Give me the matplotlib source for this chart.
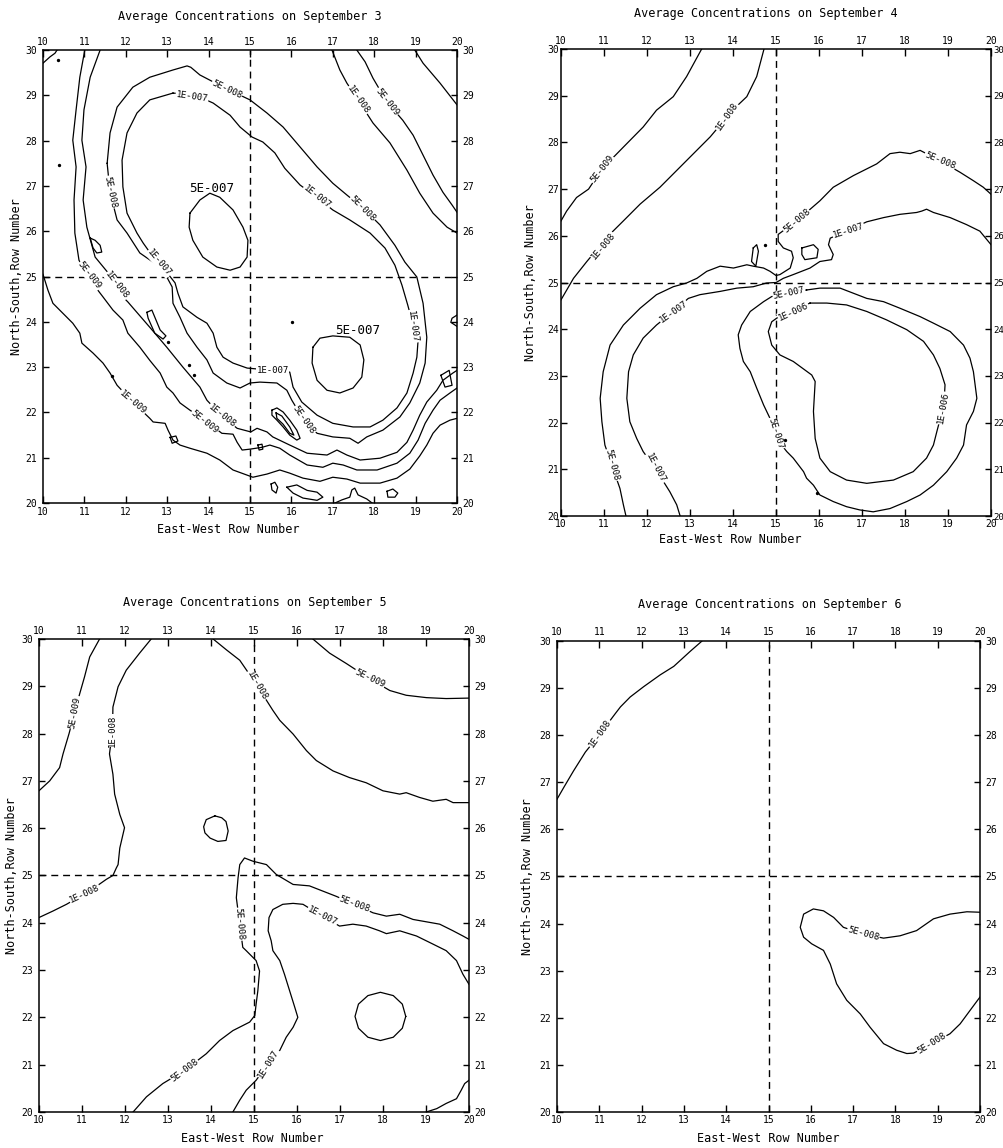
import numpy as np
import matplotlib.pyplot as plt

# ---- September 3 (traced contour paths, grid units) ----
sep3_5e9_west = [(11.01, 30.0), (10.89, 29.40), (10.80, 28.68), (10.72, 28.01), (10.80, 27.42), (10.75, 26.69),
                 (10.77, 25.96), (10.87, 25.36), (11.14, 24.92), (11.45, 24.55), (11.69, 24.26), (11.93, 24.04),
                 (12.05, 23.75), (12.34, 23.44), (12.58, 23.15), (12.83, 22.87), (12.99, 22.56), (13.14, 22.43),
                 (13.31, 22.21), (13.55, 22.05), (13.91, 21.83), (14.32, 21.54), (14.59, 21.52), (14.69, 21.34),
                 (14.81, 21.17), (15.00, 21.19), (15.29, 21.23), (15.48, 21.28), (15.72, 21.21), (15.96, 21.06),
                 (16.38, 20.84), (16.76, 20.79), (17.00, 20.88), (17.25, 20.84), (17.58, 20.73), (18.07, 20.73),
                 (18.55, 20.88), (18.86, 21.10), (19.06, 21.39), (19.23, 21.76), (19.42, 22.05), (19.59, 22.27),
                 (19.83, 22.43), (20.0, 22.54)]
sep3_1e8_west = [(11.38, 30.0), (11.14, 29.40), (10.99, 28.68), (10.94, 28.01), (11.04, 27.42), (10.97, 26.69),
                 (11.06, 26.09), (11.26, 25.43), (11.62, 25.03), (11.93, 24.55), (12.05, 24.44), (12.58, 23.88),
                 (12.99, 23.44), (13.38, 23.00), (13.79, 22.56), (13.96, 22.27), (14.32, 21.92), (14.69, 21.65),
                 (15.02, 21.57), (15.17, 21.65), (15.41, 21.57), (15.55, 21.46), (15.96, 21.28), (16.38, 21.10),
                 (16.86, 21.06), (17.10, 21.17), (17.34, 21.06), (17.66, 20.95), (18.14, 20.99), (18.55, 21.12),
                 (18.79, 21.34), (18.94, 21.61), (19.10, 21.94), (19.27, 22.23), (19.51, 22.49), (19.66, 22.71),
                 (19.90, 22.87), (20.0, 22.93)]
sep3_1e9_west = [(10.0, 25.05), (10.12, 24.70), (10.24, 24.41), (10.48, 24.19), (10.72, 23.97), (10.89, 23.75),
                 (10.94, 23.53), (11.21, 23.31), (11.45, 23.09), (11.62, 22.87), (11.79, 22.60), (12.17, 22.23),
                 (12.58, 21.87), (12.66, 21.79), (12.95, 21.76), (13.02, 21.61), (13.14, 21.39), (13.31, 21.28),
                 (13.55, 21.21), (13.96, 21.10), (14.27, 20.95), (14.59, 20.73), (15.07, 20.57), (15.41, 20.64),
                 (15.72, 20.73), (15.96, 20.66), (16.28, 20.55), (16.69, 20.48), (17.00, 20.57), (17.34, 20.53),
                 (17.66, 20.44), (18.14, 20.44), (18.55, 20.55), (18.86, 20.75), (19.10, 21.04), (19.27, 21.28),
                 (19.42, 21.54), (19.59, 21.72), (19.83, 21.83), (20.0, 21.87)]
sep3_1e8_east = [(16.98, 30.0), (17.17, 29.56), (17.34, 29.27), (17.61, 28.90), (17.97, 28.39), (18.38, 27.95),
                 (18.79, 27.35), (19.10, 26.84), (19.42, 26.40), (19.76, 26.09), (20.0, 25.96)]
sep3_5e9_east = [(17.58, 30.0), (17.78, 29.74), (17.97, 29.38), (18.31, 28.85), (18.69, 28.45), (18.94, 28.12),
                 (19.18, 27.68), (19.42, 27.24), (19.66, 26.86), (19.88, 26.58), (20.0, 26.42)]
sep3_1e9_east = [(18.98, 30.0), (19.18, 29.71), (19.59, 29.27), (20.0, 28.79)]
sep3_corner = [(10.0, 29.71), (10.17, 29.85), (10.29, 29.93), (10.34, 30.0)]
sep3_1e7 = [(13.14, 29.05), (12.58, 28.90), (12.27, 28.61), (12.03, 28.17), (11.91, 27.57), (11.93, 26.98),
            (12.03, 26.40), (12.27, 25.96), (12.42, 25.74), (12.63, 25.47), (12.95, 25.14), (13.19, 24.86),
            (13.26, 24.63), (13.38, 24.33), (13.72, 24.10), (13.96, 23.97), (14.11, 23.75), (14.20, 23.44),
            (14.35, 23.22), (14.59, 23.09), (14.93, 22.98), (15.17, 22.96), (15.60, 22.93), (15.96, 22.89),
            (16.04, 22.56), (16.25, 22.23), (16.62, 21.94), (17.00, 21.76), (17.49, 21.68), (17.90, 21.68),
            (18.21, 21.83), (18.55, 22.10), (18.79, 22.43), (18.94, 22.87), (19.03, 23.22), (19.06, 23.60),
            (18.94, 23.93), (18.81, 24.37), (18.67, 24.81), (18.50, 25.25), (18.26, 25.63), (17.90, 25.96),
            (17.41, 26.25), (17.00, 26.47), (16.57, 26.78), (16.21, 27.02), (15.84, 27.39), (15.60, 27.73),
            (15.31, 27.97), (15.05, 28.08), (14.76, 28.30), (14.52, 28.56), (14.11, 28.83), (13.67, 29.01)]
sep3_5e8 = [(11.55, 27.50), (11.62, 28.17), (11.79, 28.74), (12.17, 29.18), (12.58, 29.40), (13.14, 29.56),
            (13.48, 29.65), (13.57, 29.62), (13.79, 29.45), (14.40, 29.16), (15.00, 28.90), (15.41, 28.61),
            (15.80, 28.30), (16.21, 27.86), (16.62, 27.42), (17.00, 27.06), (17.34, 26.80), (17.73, 26.51),
            (18.14, 26.14), (18.50, 25.69), (18.74, 25.32), (19.03, 24.99), (19.18, 24.41), (19.27, 23.66),
            (19.23, 23.09), (19.10, 22.65), (18.86, 22.21), (18.62, 21.90), (18.21, 21.61), (17.82, 21.46),
            (17.61, 21.32), (17.41, 21.43), (17.00, 21.46), (16.62, 21.54), (16.30, 21.83), (16.01, 22.27),
            (15.89, 22.49), (15.65, 22.65), (15.24, 22.67), (15.00, 22.65), (14.76, 22.54), (14.44, 22.65),
            (14.11, 22.87), (13.96, 23.16), (13.72, 23.44), (13.48, 23.75), (13.31, 24.10), (13.14, 24.41),
            (13.12, 24.77), (12.99, 24.99), (12.83, 25.21), (12.34, 25.52), (12.03, 25.96), (11.79, 26.25),
            (11.62, 26.86)]
sep3_5e7_north = [(13.55, 26.40), (13.79, 26.69), (14.03, 26.84), (14.27, 26.75), (14.59, 26.47), (14.83, 26.09),
                  (14.95, 25.80), (14.93, 25.43), (14.76, 25.21), (14.52, 25.14), (14.20, 25.21), (13.86, 25.43),
                  (13.62, 25.80), (13.53, 26.09)]
sep3_5e7_south = [(16.52, 23.44), (16.69, 23.64), (17.00, 23.69), (17.41, 23.66), (17.66, 23.49), (17.75, 23.16),
                  (17.70, 22.78), (17.49, 22.54), (17.17, 22.43), (16.86, 22.49), (16.62, 22.71), (16.50, 23.09)]
sep3_islands = [
    [(11.14, 25.85), (11.26, 25.80), (11.38, 25.69), (11.42, 25.54), (11.30, 25.52), (11.21, 25.63)],
    [(12.51, 24.21), (12.63, 24.26), (12.83, 23.82), (12.97, 23.69), (12.90, 23.62), (12.70, 23.75), (12.54, 24.08)],
    [(15.53, 22.05), (15.65, 22.10), (15.80, 22.01), (15.96, 21.83), (16.13, 21.61), (16.21, 21.43), (16.13, 21.39),
     (15.96, 21.50), (15.80, 21.68), (15.65, 21.83), (15.53, 21.94)],
    [(15.63, 21.99), (15.77, 21.92), (15.96, 21.68), (16.06, 21.50), (15.96, 21.54), (15.80, 21.74), (15.65, 21.87)],
    [(15.89, 20.35), (16.13, 20.40), (16.38, 20.28), (16.62, 20.24), (16.76, 20.13), (16.62, 20.06), (16.28, 20.11),
     (16.04, 20.22)],
    [(18.31, 20.26), (18.45, 20.31), (18.57, 20.22), (18.50, 20.13), (18.33, 20.13)],
    [(15.51, 20.42), (15.60, 20.46), (15.67, 20.35), (15.63, 20.22), (15.53, 20.29)],
    [(15.19, 21.28), (15.29, 21.30), (15.31, 21.19), (15.22, 21.17)],
    [(13.07, 21.45), (13.21, 21.48), (13.26, 21.37), (13.12, 21.32)],
    [(19.61, 22.82), (19.81, 22.93), (19.88, 22.60), (19.71, 22.56)],
]
sep3_open_bits = [
    [(17.05, 20.0), (17.22, 20.07), (17.41, 20.13), (17.46, 20.29), (17.53, 20.33), (17.61, 20.18), (17.82, 20.09),
     (17.95, 20.0)],
    [(20.0, 24.15), (19.88, 24.08), (19.85, 23.99), (20.0, 23.90)],
]
sep3_dots = [(10.36, 29.78), (10.39, 27.46), (16.01, 23.99), (13.02, 23.55), (13.53, 23.04), (13.65, 22.82),
             (11.67, 22.80)]
sep3_labels = [("5E-009", 11.12, 25.02, -52), ("1E-008", 11.78, 24.80, -52), ("5E-008", 11.62, 26.86, -78),
               ("1E-007", 12.80, 25.30, -50), ("5E-008", 14.44, 29.13, -25), ("1E-007", 13.60, 28.97, -8),
               ("1E-007", 16.62, 26.76, -38), ("5E-008", 17.73, 26.51, -45), ("1E-008", 17.61, 28.90, -55),
               ("5E-009", 18.31, 28.85, -52), ("1E-007", 18.92, 23.90, -82), ("1E-007", 15.55, 22.93, 0),
               ("5E-008", 16.30, 21.83, -55), ("1E-008", 14.32, 21.92, -38), ("5E-009", 13.91, 21.80, -38),
               ("1E-009", 12.17, 22.23, -40)]
sep3_big_labels = [("5E-007", 14.08, 26.95), ("5E-007", 17.61, 23.82)]

# ---- September 4 ----
sep4_5e9 = [(13.27, 30.0), (12.92, 29.41), (12.61, 28.98), (12.22, 28.69), (11.91, 28.33), (11.45, 27.90),
            (10.95, 27.43), (10.64, 27.00), (10.36, 26.82), (10.13, 26.53), (10.0, 26.32)]
sep4_1e8 = [(14.72, 30.0), (14.55, 29.41), (14.32, 28.98), (14.00, 28.70), (13.47, 28.12), (13.08, 27.76),
            (12.69, 27.40), (12.30, 27.04), (11.84, 26.68), (11.45, 26.32), (11.10, 26.00), (10.60, 25.45),
            (10.29, 25.09), (10.0, 24.63)]
sep4_5e8 = [(20.0, 26.89), (19.82, 27.04), (19.59, 27.18), (19.28, 27.36), (18.81, 27.61), (18.35, 27.83),
            (18.12, 27.76), (17.88, 27.79), (17.65, 27.76), (17.34, 27.54), (16.80, 27.29), (16.33, 27.04),
            (16.02, 26.75), (15.48, 26.32), (15.05, 26.03), (15.05, 25.88), (15.17, 25.74), (15.36, 25.67),
            (15.40, 25.53), (15.33, 25.31), (15.09, 25.17), (15.0, 25.15), (14.86, 25.24), (14.71, 25.31),
            (14.47, 25.35), (14.32, 25.38), (14.01, 25.31), (13.70, 25.35), (13.39, 25.24), (13.16, 25.09),
            (12.92, 24.99), (12.61, 24.91), (12.22, 24.74), (11.84, 24.45), (11.45, 24.09), (11.14, 23.66),
            (10.98, 23.09), (10.91, 22.52), (10.95, 22.02), (11.02, 21.52), (11.18, 21.09), (11.37, 20.59),
            (11.45, 20.24), (11.51, 20.0)]
sep4_1e7 = [(20.0, 25.81), (19.74, 26.10), (19.43, 26.24), (19.05, 26.39), (18.66, 26.50), (18.50, 26.57),
            (18.39, 26.53), (18.27, 26.50), (17.88, 26.46), (17.50, 26.39), (17.11, 26.30), (16.68, 26.12),
            (16.26, 25.95), (16.22, 25.81), (16.33, 25.60), (16.29, 25.49), (16.02, 25.45), (15.79, 25.31),
            (15.40, 25.17), (15.17, 25.09), (15.0, 25.0), (14.78, 24.99), (14.47, 24.91), (14.09, 24.88),
            (13.70, 24.81), (13.23, 24.74), (12.96, 24.66), (12.61, 24.38), (12.22, 24.09), (11.91, 23.81),
            (11.68, 23.45), (11.57, 23.09), (11.53, 22.52), (11.60, 22.02), (11.76, 21.66), (11.91, 21.38),
            (12.19, 21.02), (12.53, 20.52), (12.69, 20.24), (12.77, 20.0)]
sep4_5e7 = [(15.71, 24.84), (16.02, 24.88), (16.49, 24.88), (16.80, 24.77), (17.11, 24.66), (17.50, 24.59),
            (17.88, 24.45), (18.35, 24.27), (18.66, 24.13), (19.05, 23.95), (19.36, 23.66), (19.51, 23.38),
            (19.59, 23.09), (19.67, 22.52), (19.59, 22.24), (19.43, 21.95), (19.36, 21.52), (19.20, 21.24),
            (18.97, 20.95), (18.66, 20.66), (18.35, 20.45), (18.04, 20.31), (17.65, 20.16), (17.26, 20.09),
            (16.95, 20.13), (16.64, 20.20), (16.33, 20.31), (16.02, 20.45), (15.87, 20.66), (15.71, 20.81),
            (15.64, 20.95), (15.40, 21.24), (15.25, 21.38), (15.13, 21.52), (15.02, 21.81), (14.86, 22.09),
            (14.71, 22.38), (14.55, 22.74), (14.40, 23.09), (14.24, 23.31), (14.16, 23.59), (14.12, 23.88),
            (14.20, 24.09), (14.40, 24.38), (14.71, 24.59), (14.90, 24.70), (15.31, 24.77)]
sep4_1e6 = [(15.79, 24.56), (16.18, 24.56), (16.64, 24.52), (17.11, 24.38), (17.57, 24.20), (18.04, 23.99),
            (18.43, 23.74), (18.66, 23.45), (18.81, 23.16), (18.93, 22.81), (18.90, 22.31), (18.78, 21.95),
            (18.74, 21.81), (18.66, 21.52), (18.50, 21.24), (18.19, 20.95), (17.73, 20.77), (17.11, 20.70),
            (16.64, 20.77), (16.26, 20.95), (16.02, 21.24), (15.91, 21.66), (15.87, 22.24), (15.91, 22.88),
            (15.83, 23.02), (15.40, 23.31), (15.09, 23.45), (14.90, 23.66), (14.82, 23.95), (14.90, 24.16),
            (15.02, 24.24), (15.40, 24.40)]
sep4_islands = [
    [(15.60, 25.74), (15.87, 25.81), (15.98, 25.71), (15.95, 25.53), (15.67, 25.49), (15.60, 25.60)],
    [(14.47, 25.74), (14.55, 25.81), (14.59, 25.67), (14.53, 25.35), (14.43, 25.45)],
]
sep4_dots = [(14.74, 25.81), (15.21, 21.63), (15.95, 20.49)]
sep4_labels = [("5E-009", 10.95, 27.43, 52), ("1E-008", 13.85, 28.55, 55), ("1E-008", 10.98, 25.78, 50),
               ("5E-008", 15.48, 26.32, 40), ("5E-008", 18.81, 27.61, -22), ("1E-007", 16.68, 26.12, 18),
               ("1E-007", 12.61, 24.38, 35), ("5E-008", 11.18, 21.09, -75), ("1E-007", 12.19, 21.02, -62),
               ("5E-007", 15.30, 24.77, 12), ("1E-006", 15.40, 24.38, 25), ("5E-007", 15.0, 21.77, -72),
               ("1E-006", 18.88, 22.31, 80)]

# ---- September 5 ----
sep5_5e9_west = [(11.41, 30.0), (11.18, 29.62), (11.06, 29.20), (10.95, 28.85), (10.83, 28.45), (10.70, 28.00),
                 (10.56, 27.57), (10.48, 27.28), (10.25, 27.00), (10.0, 26.79)]
sep5_1e8_west = [(12.61, 30.0), (12.34, 29.70), (12.03, 29.34), (11.84, 28.99), (11.72, 28.56), (11.71, 28.06),
                 (11.64, 27.57), (11.72, 27.14), (11.76, 26.72), (11.88, 26.29), (11.99, 26.01), (11.88, 25.58),
                 (11.84, 25.23), (11.80, 25.16), (11.72, 25.0), (11.57, 24.92), (11.35, 24.78), (11.06, 24.61),
                 (10.64, 24.39), (10.33, 24.25), (10.0, 24.11)]
sep5_1e8_east = [(14.05, 30.0), (14.36, 29.77), (14.67, 29.55), (15.07, 29.02), (15.44, 28.49), (15.60, 28.28),
                 (15.91, 27.99), (16.22, 27.64), (16.45, 27.43), (16.84, 27.21), (17.22, 27.07), (17.61, 26.96),
                 (18.0, 26.79), (18.39, 26.72), (18.54, 26.75), (18.85, 26.65), (19.16, 26.57), (19.47, 26.61),
                 (19.63, 26.54), (20.0, 26.54)]
sep5_5e9_east = [(16.37, 30.0), (16.76, 29.70), (17.15, 29.48), (17.69, 29.16), (18.16, 28.91), (18.54, 28.81),
                 (19.01, 28.76), (19.47, 28.74), (20.0, 28.75)]
sep5_5e8 = [(20.0, 23.65), (19.86, 23.72), (19.63, 23.83), (19.32, 23.97), (19.01, 24.02), (18.70, 24.07),
            (18.39, 24.18), (18.08, 24.14), (17.77, 24.21), (17.34, 24.39), (16.91, 24.56), (16.60, 24.67),
            (16.29, 24.78), (15.91, 24.81), (15.52, 25.02), (15.29, 25.23), (14.98, 25.30), (14.78, 25.37),
            (14.67, 25.23), (14.63, 24.95), (14.59, 24.53), (14.67, 23.97), (14.74, 23.48), (14.82, 23.41),
            (15.05, 23.20), (15.13, 22.98), (15.09, 22.56), (15.05, 22.28), (15.02, 22.04), (14.90, 21.90),
            (14.51, 21.72), (14.20, 21.51), (13.89, 21.23), (13.39, 20.88), (12.88, 20.60), (12.50, 20.32),
            (12.19, 20.0)]
sep5_1e7 = [(20.0, 22.70), (19.86, 22.91), (19.71, 23.20), (19.47, 23.41), (19.16, 23.55), (18.78, 23.72),
            (18.39, 23.83), (18.08, 23.77), (17.92, 23.83), (17.61, 23.93), (17.30, 23.97), (16.99, 23.93),
            (16.59, 24.14), (16.14, 24.39), (15.91, 24.41), (15.67, 24.39), (15.44, 24.28), (15.35, 24.11),
            (15.33, 23.83), (15.40, 23.62), (15.44, 23.41), (15.60, 23.20), (15.71, 22.91), (15.83, 22.56),
            (15.95, 22.21), (16.02, 22.0), (15.91, 21.79), (15.75, 21.58), (15.60, 21.30), (15.33, 21.02),
            (15.05, 20.67), (14.82, 20.46), (14.67, 20.25), (14.51, 20.0)]
sep5_1e8_edge = [(19.01, 20.0), (19.25, 20.07), (19.47, 20.18), (19.71, 20.28), (19.82, 20.46), (19.90, 20.60),
                 (20.0, 20.67)]
sep5_ring_small = [(14.09, 26.26), (14.25, 26.22), (14.35, 26.14), (14.40, 25.94), (14.35, 25.74), (14.16, 25.72),
                   (13.98, 25.79), (13.86, 25.90), (13.83, 26.03), (13.89, 26.18)]
sep5_ring_big = [(18.53, 22.02), (18.45, 22.28), (18.24, 22.46), (17.94, 22.53), (17.65, 22.46), (17.43, 22.28),
                 (17.35, 22.02), (17.43, 21.77), (17.65, 21.58), (17.94, 21.51), (18.24, 21.58), (18.45, 21.77)]
sep5_labels = [("5E-009", 10.83, 28.45, 80), ("1E-008", 11.71, 28.06, 90), ("1E-008", 15.07, 29.02, -60),
               ("5E-009", 17.69, 29.16, -25), ("1E-008", 11.06, 24.61, 25), ("5E-008", 17.34, 24.39, -20),
               ("5E-008", 14.67, 23.97, -85), ("1E-007", 16.59, 24.14, -27), ("5E-008", 13.39, 20.88, 37),
               ("1E-007", 15.33, 21.02, 58)]

# ---- September 6 ----
sep6_1e8 = [(13.43, 30.0), (13.15, 29.78), (12.76, 29.46), (12.44, 29.28), (12.05, 29.03), (11.73, 28.81),
            (11.50, 28.60), (11.38, 28.46), (11.02, 28.03), (10.67, 27.64), (10.39, 27.24), (10.16, 26.89),
            (10.0, 26.64)]
sep6_5e8 = [(20.0, 24.24), (19.69, 24.25), (19.29, 24.20), (18.90, 24.10), (18.50, 23.85), (18.11, 23.74),
            (17.72, 23.69), (17.24, 23.78), (16.77, 23.92), (16.54, 24.13), (16.30, 24.27), (16.06, 24.31),
            (15.83, 24.20), (15.75, 23.92), (15.83, 23.71), (16.02, 23.57), (16.30, 23.43), (16.46, 23.14),
            (16.61, 22.72), (16.85, 22.37), (17.17, 22.08), (17.40, 21.80), (17.72, 21.45), (18.03, 21.31),
            (18.27, 21.24), (18.43, 21.25), (18.86, 21.45), (19.29, 21.66), (19.53, 21.87), (19.76, 22.15),
            (20.0, 22.44)]
sep6_labels = [("1E-008", 11.02, 28.03, 55), ("5E-008", 17.24, 23.78, -15), ("5E-008", 18.86, 21.45, 32)]

days = ["3", "4", "5", "6"]

plt.rcParams['font.family'] = ['DejaVu Sans Mono']

fig = plt.figure(figsize=(10.04, 11.48), dpi=100)
fig.patch.set_facecolor('white')

panels = [
    dict(rect=[0.0428, 0.5618, 0.4124, 0.3946], title_xy=(0.249, 0.986), xlab=(0.447, -0.044), ylab=-0.048,
         ypad=4, ysize=7,
         lines=[sep3_5e9_west, sep3_1e8_west, sep3_1e9_west, sep3_1e8_east, sep3_5e9_east, sep3_1e9_east,
                sep3_corner] + sep3_open_bits,
         loops=[sep3_1e7, sep3_5e8, sep3_5e7_north, sep3_5e7_south] + sep3_islands,
         labels=sep3_labels, big=sep3_big_labels, dots=sep3_dots),
    dict(rect=[0.5588, 0.5505, 0.4283, 0.4068], title_xy=(0.763, 0.988), xlab=(0.393, -0.037), ylab=-0.056,
         ypad=1.5, ysize=6.5,
         lines=[sep4_5e9, sep4_1e8, sep4_5e8, sep4_1e7],
         loops=[sep4_5e7, sep4_1e6] + sep4_islands,
         labels=sep4_labels, big=[], dots=sep4_dots),
    dict(rect=[0.0388, 0.0314, 0.4283, 0.4120], title_xy=(0.254, 0.4756), xlab=(0.495, -0.042), ylab=-0.049,
         ypad=4, ysize=7,
         lines=[sep5_5e9_west, sep5_1e8_west, sep5_1e8_east, sep5_5e9_east, sep5_5e8, sep5_1e7, sep5_1e8_edge],
         loops=[sep5_ring_small, sep5_ring_big],
         labels=sep5_labels, big=[], dots=[]),
    dict(rect=[0.5548, 0.0314, 0.4213, 0.4103], title_xy=(0.767, 0.473), xlab=(0.499, -0.042), ylab=-0.054,
         ypad=4, ysize=7,
         lines=[sep6_1e8, sep6_5e8],
         loops=[],
         labels=sep6_labels, big=[], dots=[]),
]

for day, p in zip(days, panels):
    ax = fig.add_axes(p['rect'])
    for pts in p['lines']:
        xs, ys = zip(*pts)
        ax.plot(xs, ys, color='black', lw=0.9, solid_joinstyle='round')
    for pts in p['loops']:
        xs, ys = zip(*(pts + pts[:1]))
        ax.plot(xs, ys, color='black', lw=0.9, solid_joinstyle='round')
    for x, y in p['dots']:
        ax.plot(x, y, 'o', color='black', ms=1.4)

    # reference cross through the centre of the grid
    ax.axvline(15, color='black', lw=1.0, dashes=(5, 3.5))
    ax.axhline(25, color='black', lw=1.0, dashes=(5, 3.5))

    for txt, x, y, rot in p['labels']:
        ax.text(x, y, txt, fontsize=6.5, rotation=rot, rotation_mode='anchor', ha='center', va='center',
                bbox=dict(facecolor='white', edgecolor='none', pad=0.4))
    for txt, x, y in p['big']:
        ax.text(x, y, txt, fontsize=9, ha='center', va='center')

    ax.set_xlim(10, 20)
    ax.set_ylim(20, 30)
    ax.set_xticks(range(10, 21))
    ax.set_yticks(range(20, 31))
    ax.tick_params(axis='x', direction='in', length=5, width=1, top=True, labeltop=True, labelsize=7, pad=2.5)
    ax.tick_params(axis='y', direction='in', length=4, width=1, left=True, labelsize=7, pad=4)
    ax.tick_params(axis='y', which='major', right=True, labelright=True)
    for lab in ax.get_yticklabels(which='major'):
        pass
    ax.yaxis.set_tick_params(which='major', labelright=True)
    for t in ax.yaxis.get_major_ticks():
        t.label2.set_fontsize(p['ysize'])
        t.tick2line.set_markersize(4)
    ax.yaxis.set_tick_params(which='major', pad=4)
    if p['ypad'] != 4:
        for t in ax.yaxis.get_major_ticks():
            t.set_pad(p['ypad'])
            t.label1.set_fontsize(7)
    for s in ax.spines.values():
        s.set_linewidth(1.1)

    ax.set_xlabel('East-West Row Number', fontsize=8.5)
    ax.xaxis.set_label_coords(*p['xlab'])
    ax.set_ylabel('North-South,Row Number', fontsize=8.5)
    ax.yaxis.set_label_coords(p['ylab'], 0.5)

    fig.text(p['title_xy'][0], p['title_xy'][1], 'Average Concentrations on September ' + day,
             fontsize=8.5, ha='center', va='center')

fig.savefig('out.png', dpi=100, facecolor='white')
